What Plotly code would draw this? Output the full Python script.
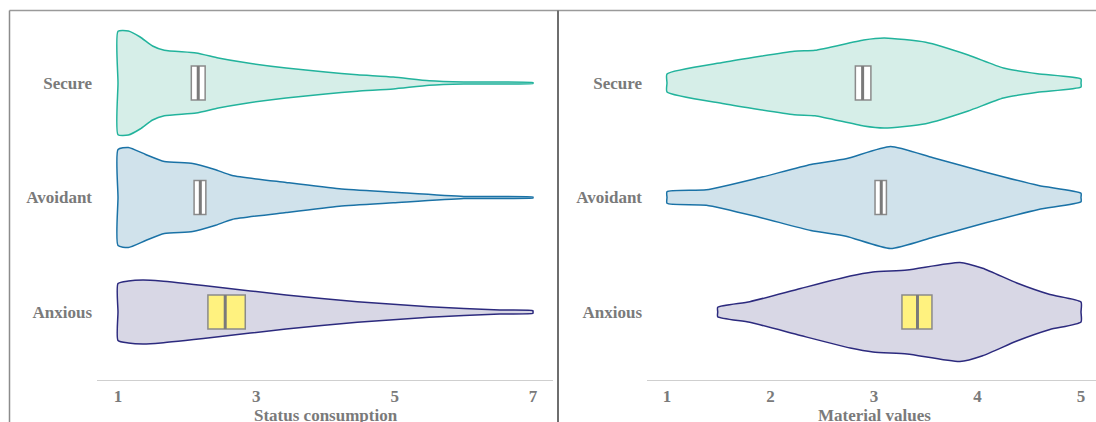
import plotly.graph_objects as go

# ---------------- data ----------------
groups = ["Secure", "Avoidant", "Anxious"]
group_pos = [3, 2, 1]

# Status consumption (left panel): density profiles
sc_secure_x = [1.0, 1.15, 1.32, 1.5, 1.67, 2.13, 2.45, 2.81, 3.43, 4.0, 4.46, 4.98, 5.5, 6.0, 7.0]
sc_secure_d = [51.7, 52, 46, 37, 32.7, 30, 25, 20.7, 15, 11, 8.3, 6, 2.3, 1, 0.5]
sc_avoidant_x = [1.0, 1.15, 1.4, 1.67, 2.08, 2.4, 2.65, 3.43, 4.2, 4.98, 6.0, 7.0]
sc_avoidant_d = [48, 50, 43, 36, 34, 28, 22, 15, 8.7, 5.3, 1, 0.5]
sc_anxious_x = [1.0, 1.15, 1.36, 1.62, 2.39, 3.43, 4.46, 5.5, 6.52, 7.0]
sc_anxious_d = [28.5, 31, 32, 31, 25.3, 17, 10.3, 5.3, 2, 1.3]

# Material values (right panel): density profiles
mv_secure_x = [1.0, 1.55, 2.23, 2.43, 2.9, 3.1, 3.5, 3.91, 4.25, 4.58, 5.0]
mv_secure_d = [9, 20.7, 31.7, 32.7, 43, 45, 40.7, 28, 15, 9.3, 4]
mv_avoidant_x = [1.0, 1.38, 1.89, 2.39, 2.73, 3.16, 3.57, 4.08, 4.59, 5.0]
mv_avoidant_d = [5.8, 7.7, 19.7, 33, 38.7, 51, 39.7, 25.3, 12, 4.3]
mv_anxious_x = [1.49, 1.8, 2.29, 2.77, 2.99, 3.32, 3.83, 4.05, 4.38, 4.7, 5.0]
mv_anxious_d = [4.7, 10.3, 23.5, 36, 40, 42, 49.5, 43.7, 29, 17.5, 10]

# Box summaries (Secure, Avoidant, Anxious)
sc_q1 = [2.06, 2.10, 2.30]
sc_median = [2.16, 2.19, 2.55]
sc_q3 = [2.26, 2.27, 2.84]
mv_q1 = [2.82, 3.01, 3.27]
mv_median = [2.89, 3.07, 3.42]
mv_q3 = [2.97, 3.12, 3.56]

sc_ticks = [1, 3, 5, 7]
mv_ticks = [1, 2, 3, 4, 5]
x_titles = ["Status consumption", "Material values"]

# ---------------- style ----------------
W, H = 1096, 422
DENS_SCALE = 1 / 114.5          # density units -> y units
BOX_HALF = 0.148
line_colors = ["#22b39c", "#1a72a6", "#2c2a7e"]
fill_colors = ["rgba(210,236,229,0.9)", "rgba(205,224,234,0.95)", "rgba(214,213,228,0.95)"]
box_fills = ["#ffffff", "#ffffff", "#fff27f"]
FONT = "Liberation Serif"
TXT = "#7a7a7a"

fig = go.Figure()

panels = [
    ("x", "y", [(sc_secure_x, sc_secure_d), (sc_avoidant_x, sc_avoidant_d), (sc_anxious_x, sc_anxious_d)],
     sc_q1, sc_median, sc_q3),
    ("x2", "y2", [(mv_secure_x, mv_secure_d), (mv_avoidant_x, mv_avoidant_d), (mv_anxious_x, mv_anxious_d)],
     mv_q1, mv_median, mv_q3),
]

shapes = []
for xa, ya, profiles, q1s, meds, q3s in panels:
    for i, (xs, ds) in enumerate(profiles):
        c = group_pos[i]
        # outline: top edge left->right, right end mid, bottom edge right->left, left end mid
        px = list(xs) + [xs[-1]] + list(xs[::-1]) + [xs[0], xs[0]]
        py = ([c + d * DENS_SCALE for d in ds] + [c] +
              [c - d * DENS_SCALE for d in ds[::-1]] + [c, c + ds[0] * DENS_SCALE])
        fig.add_trace(go.Scatter(
            x=px, y=py, xaxis=xa, yaxis=ya, mode="lines", fill="toself",
            fillcolor=fill_colors[i], line=dict(color=line_colors[i], width=1.5, shape="spline", smoothing=0.55),
            hoverinfo="skip", showlegend=False))
        shapes.append(dict(type="rect", xref=xa, yref=ya, x0=q1s[i], x1=q3s[i],
                           y0=c - BOX_HALF, y1=c + BOX_HALF, fillcolor=box_fills[i],
                           line=dict(color="#8a8a8a", width=1.5), layer="above"))
        shapes.append(dict(type="line", xref=xa, yref=ya, x0=meds[i], x1=meds[i],
                           y0=c - BOX_HALF, y1=c + BOX_HALF,
                           line=dict(color="#7a7a7a", width=3), layer="above"))

# frame
frame_col = "#8c8c8c"
shapes += [
    dict(type="line", xref="paper", yref="paper", x0=9.5 / W, x1=1, y0=1 - 10.5 / H, y1=1 - 10.5 / H,
         line=dict(color="#9a9a9a", width=1.5)),
    dict(type="line", xref="paper", yref="paper", x0=9.5 / W, x1=9.5 / W, y0=0, y1=1 - 10.5 / H,
         line=dict(color=frame_col, width=1.5)),
    dict(type="line", xref="paper", yref="paper", x0=558 / W, x1=558 / W, y0=0, y1=1 - 10.5 / H,
         line=dict(color="#6e6e6e", width=2)),
]

y_dom = [(422 - 380) / H, (422 - 10) / H]
y_rng = [1 - (380 - 312) / 114.5, 3 + (83 - 10) / 114.5]

axis_font = dict(family=FONT, size=17, color=TXT, weight="bold")

fig.update_layout(
    width=W, height=H, margin=dict(l=0, r=0, t=0, b=0),
    paper_bgcolor="white", plot_bgcolor="rgba(0,0,0,0)",
    shapes=shapes,
    xaxis=dict(domain=[97 / W, 553 / W], range=[1 - 21 / 69.17, 7 + 20 / 69.17],
               tickvals=sc_ticks, ticktext=[str(t) for t in sc_ticks],
               showgrid=False, zeroline=False, showline=True,
               linecolor="#cfcfcf", linewidth=1.2, ticks="", tickfont=axis_font, anchor="y"),
    xaxis2=dict(domain=[647 / W, 1.0], range=[1 - 20 / 103.5, 5 + 15 / 103.5],
                tickvals=mv_ticks, ticktext=[str(t) for t in mv_ticks],
                showgrid=False, zeroline=False, showline=True,
                linecolor="#cfcfcf", linewidth=1.2, ticks="", tickfont=axis_font, anchor="y2"),
    yaxis=dict(domain=y_dom, range=y_rng, tickvals=group_pos, ticktext=groups,
               showgrid=False, zeroline=False, showline=False, ticks="", tickfont=axis_font,
               anchor="x", ticklabelstandoff=4),
    yaxis2=dict(domain=y_dom, range=y_rng, tickvals=group_pos, ticktext=groups,
                showgrid=False, zeroline=False, showline=False, ticks="", tickfont=axis_font,
                anchor="x2", ticklabelstandoff=4),
    annotations=[
        dict(text=x_titles[0], xref="paper", yref="paper", x=(118 + 533) / 2 / W,
             y=(422 - 415) / H, xanchor="center", yanchor="middle", showarrow=False,
             font=dict(family=FONT, size=17, color=TXT, weight="bold")),
        dict(text=x_titles[1], xref="paper", yref="paper", x=(667 + 1081) / 2 / W,
             y=(422 - 415) / H, xanchor="center", yanchor="middle", showarrow=False,
             font=dict(family=FONT, size=17, color=TXT, weight="bold")),
    ],
)

fig.write_html("out.html", config={"displayModeBar": False},
               post_script="document.body.style.margin='0px';document.body.style.overflow='hidden';")
